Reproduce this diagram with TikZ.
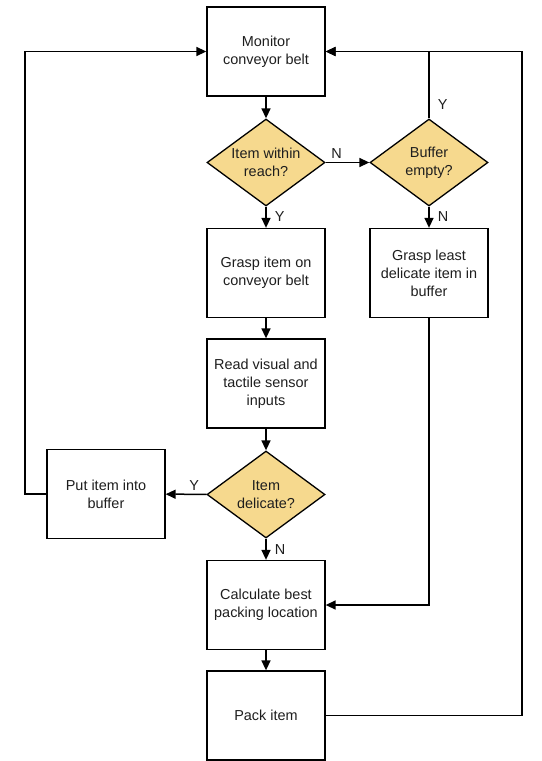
\documentclass[tikz,border=0pt]{standalone}
\usepackage{fontspec}
\setmainfont{Liberation Sans}
\usepackage{tikz}
\usetikzlibrary{arrows.meta,shapes.geometric}
\definecolor{decisionfill}{HTML}{F6D98E}
\definecolor{inktext}{HTML}{1E1E1E}
\tikzset{
	etape/.style={draw, line width=1.3bp, rectangle, minimum width=118bp, minimum height=89bp, inner sep=2bp, align=center, text=inktext, font=\fontsize{14.5}{18}\selectfont},
	choix/.style={draw, line width=1.3bp, diamond, aspect=1.36, fill=decisionfill, minimum width=118bp, minimum height=87bp, inner sep=0pt, align=center, text=inktext, font=\fontsize{14.5}{18}\selectfont},
	fleche/.style={line width=1.5bp, -{Triangle[length=10bp,width=9bp]}},
	reponse/.style={text=inktext, font=\fontsize{14.5}{16}\selectfont, inner sep=3bp},
	adroite/.style={reponse, right, xshift=5bp}
}

\begin{document}
\begin{tikzpicture}[x=1bp,y=-1bp]
	\useasboundingbox (0,0) rectangle (542,761);
	
	% colonne centrale
	\node[etape] (monitor) at (266,51.5) {Monitor\\conveyor belt};
	\node[choix] (reach) at (266,162.5) {Item within\\reach?};
	\node[etape] (grasp) at (266,273) {Grasp item on\\conveyor belt};
	\node[etape] (read) at (266,383.5) {Read visual and\\tactile sensor\\inputs};
	\node[choix] (delicate) at (266,494.5) {Item\\delicate?};
	\node[etape] (calc) at (266,605) {Calculate best\\packing location};
	\node[etape] (pack) at (266,715.5) {Pack item};
	
	% colonnes laterales
	\node[choix] (buffer) at (429,162.5) {Buffer\\empty?};
	\node[etape] (least) at (429,273) {Grasp least\\delicate item in\\buffer};
	\node[etape] (putbuf) at (106,494) {Put item into\\buffer};
	
	\coordinate (gauche) at (25,51.5);
	\coordinate (droite) at (522,51.5);
	
	\draw[fleche] (monitor) -- (reach);
	\draw[fleche] (reach) -- node[reponse, above, pos=0.25] {N} (buffer);
	\draw[fleche] (reach) -- node[adroite, pos=0.45] {Y} (grasp);
	\draw[fleche] (buffer.north) |- node[adroite, pos=0.1] {Y} (monitor.east);
	\draw[fleche] (buffer) -- node[adroite, pos=0.45] {N} (least);
	\draw[fleche] (grasp) -- (read);
	\draw[fleche] (read) -- (delicate);
	\draw[fleche] (delicate) -- node[reponse, above, pos=0.3] {Y} (putbuf);
	\draw[fleche] (delicate) -- node[adroite, pos=0.5] {N} (calc);
	\draw[fleche] (putbuf.west) -| (gauche) -- (monitor.west);
	\draw[fleche] (least) |- (calc.east);
	\draw[fleche] (calc) -- (pack);
	\draw[fleche] (pack.east) -| (droite) -- (monitor.east);
\end{tikzpicture}
\end{document}
